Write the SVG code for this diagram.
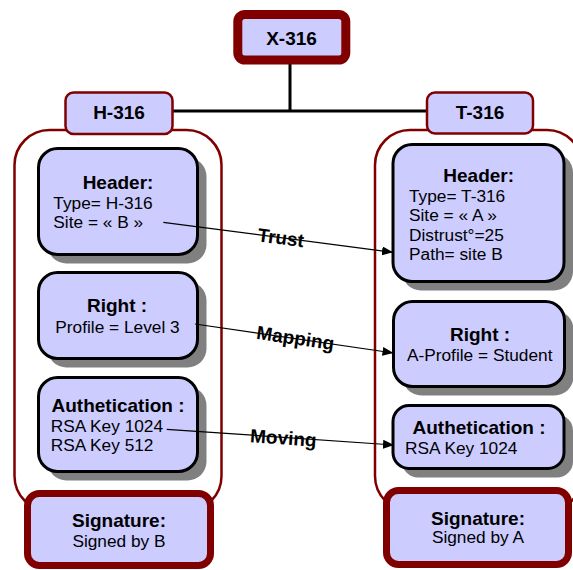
<svg xmlns="http://www.w3.org/2000/svg" width="573" height="570" viewBox="0 0 573 570">
  <style>
    text { font-family: "Liberation Sans", Arial, sans-serif; fill: #000; }
    .h { font-weight: bold; font-size: 19px; text-anchor: middle; }
    .t { font-size: 17.3px; }
    .c { text-anchor: middle; }
    .lbl { font-weight: bold; font-size: 19px; text-anchor: middle; }
    .box { fill: #ccccff; stroke: #000; stroke-width: 3; }
    .shadow { fill: #808080; }
    .tab { fill: #ccccff; stroke: #800000; stroke-width: 2.5; }
    .sig { fill: #ccccff; stroke: #800000; stroke-width: 7; }
    .root { fill: #ccccff; stroke: #800000; stroke-width: 9; }
    .frame { fill: #fff; stroke: #800000; stroke-width: 2.5; }
    .tree { fill: none; stroke: #000; stroke-width: 3; }
    .link { fill: none; stroke: #000; stroke-width: 1.2; marker-end: url(#arrow); }
  </style>
  <defs>
    <marker id="arrow" markerUnits="userSpaceOnUse" markerWidth="11" markerHeight="9" refX="11" refY="4.5" orient="auto">
      <path d="M0,0 L11,4.5 L0,9 z" fill="#000"/>
    </marker>
  </defs>

  <!-- tree lines from the root to both certificates -->
  <g id="tree">
    <path class="tree" d="M290,62 V111 M172,111 H428"/>
  </g>

  <!-- certificate frames -->
  <g id="frame-h">
    <rect class="frame" x="14.5" y="130" width="207" height="381" rx="35"/>
  </g>
  <g id="frame-t">
    <rect class="frame" x="375" y="130" width="207" height="381" rx="35"/>
  </g>

  <!-- root -->
  <g id="x316">
    <rect class="root" x="237.8" y="14.5" width="108" height="45.5" rx="7"/>
    <text class="h" x="291.5" y="45">X-316</text>
  </g>

  <!-- certificate titles -->
  <g id="h316">
    <rect class="tab" x="65.5" y="92.5" width="107" height="41.5" rx="8"/>
    <text class="h" x="119" y="119.3">H-316</text>
  </g>
  <g id="t316">
    <rect class="tab" x="427" y="92.5" width="106" height="41" rx="8"/>
    <text class="h" x="480" y="119.3">T-316</text>
  </g>

  <!-- H-316 sections -->
  <g id="h-header">
    <rect class="shadow" x="47.5" y="157.5" width="159" height="106" rx="19"/>
    <rect class="box" x="38.5" y="148.5" width="159" height="106" rx="19"/>
    <text class="h" x="118" y="189">Header:</text>
    <text class="t" x="53.3" y="208.5">Type= H-316</text>
    <text class="t" x="53.3" y="227.5">Site = « B »</text>
  </g>
  <g id="h-right">
    <rect class="shadow" x="47.5" y="281.5" width="159" height="86" rx="19"/>
    <rect class="box" x="38.5" y="272.5" width="159" height="86" rx="19"/>
    <text class="h" x="117" y="311.7">Right :</text>
    <text class="t c" x="117.5" y="332.7">Profile = Level 3</text>
  </g>
  <g id="h-auth">
    <rect class="shadow" x="47.5" y="386.5" width="159" height="94" rx="19"/>
    <rect class="box" x="38.5" y="377.5" width="159" height="94" rx="19"/>
    <text class="h" x="118" y="411.7">Authetication :</text>
    <text class="t" x="50.7" y="431.7">RSA Key 1024</text>
    <text class="t" x="50.7" y="451">RSA Key 512</text>
  </g>
  <g id="h-sig">
    <rect class="sig" x="27.5" y="493.5" width="183" height="72" rx="12"/>
    <text class="h" x="119" y="527.3">Signature:</text>
    <text class="t c" x="119" y="547.3">Signed by B</text>
  </g>

  <!-- T-316 sections -->
  <g id="t-header">
    <rect class="shadow" x="402" y="153.5" width="171" height="137" rx="19"/>
    <rect class="box" x="393" y="144.5" width="171" height="137" rx="19"/>
    <text class="h" x="478.7" y="181.7">Header:</text>
    <text class="t" x="409" y="201.7">Type= T-316</text>
    <text class="t" x="409" y="221">Site = « A »</text>
    <text class="t" x="409" y="241">Distrust°=25</text>
    <text class="t" x="409" y="260">Path= site B</text>
  </g>
  <g id="t-right">
    <rect class="shadow" x="402.5" y="310.5" width="171" height="85" rx="19"/>
    <rect class="box" x="393.5" y="301.5" width="171" height="85" rx="19"/>
    <text class="h" x="480" y="340.7">Right :</text>
    <text class="t c" x="479.7" y="360.7">A-Profile = Student</text>
  </g>
  <g id="t-auth">
    <rect class="shadow" x="402" y="414.5" width="171" height="63" rx="16"/>
    <rect class="box" x="393" y="405.5" width="171" height="63" rx="16"/>
    <text class="h" x="479" y="434">Authetication :</text>
    <text class="t" x="405" y="454">RSA Key 1024</text>
  </g>
  <g id="t-sig">
    <rect class="sig" x="386.5" y="490.5" width="182" height="74" rx="12"/>
    <text class="h" x="478" y="525">Signature:</text>
    <text class="t c" x="478" y="543.3">Signed by A</text>
  </g>

  <!-- mappings between the two certificates -->
  <g id="connectors">
    <line class="link" x1="163.3" y1="222.3" x2="393" y2="252.3"/>
    <text class="lbl" x="280" y="244.3" transform="rotate(7.46 280 244.3)">Trust</text>
    <line class="link" x1="195" y1="324" x2="393.5" y2="353"/>
    <text class="lbl" x="294.5" y="344.5" transform="rotate(8.33 294.5 344.5)">Mapping</text>
    <line class="link" x1="166.7" y1="429.3" x2="394" y2="445"/>
    <text class="lbl" x="283" y="444.5" transform="rotate(4.05 283 444.5)">Moving</text>
  </g>
</svg>
